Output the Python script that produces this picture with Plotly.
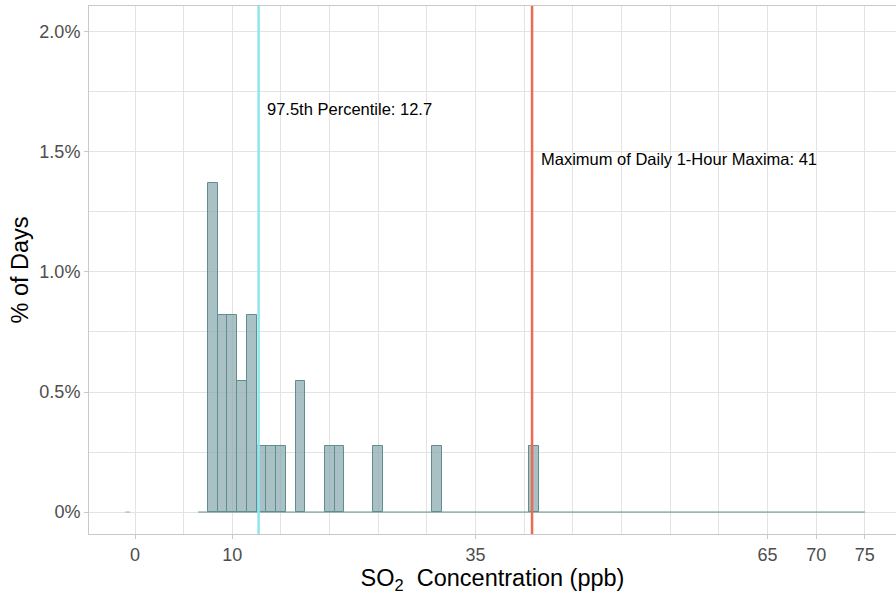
import plotly.graph_objects as go

# ---- data ----
bin_centers = [8, 9, 10, 11, 12, 13, 14, 15, 17, 20, 21, 25, 31, 41]
day_counts = [5, 3, 3, 2, 3, 1, 1, 1, 2, 1, 1, 1, 1, 1]
total_days = 365
pct_days = [c / total_days for c in day_counts]

baseline_x = [6.5, 75]          # zero-height bins drawn as a baseline
stray_x = [-1.0, -0.5]          # tiny zero-height bin left of 0

p975_value = 12.7
max_value = 40.8
max_label = 41

x_tickvals = [0, 10, 35, 65, 70, 75]
x_ticktext = ["0", "10", "35", "65", "70", "75"]
y_tickvals = [0, 0.005, 0.01, 0.015, 0.02]
y_ticktext = ["0%", "0.5%", "1.0%", "1.5%", "2.0%"]

FILL = "rgba(140,172,176,0.75)"
EDGE = "#5f8d90"
CYAN = "#8ee5ee"
RED = "#ee6a50"
GRID = "#e3e3e3"
AXIS = "#c9c9c9"
FONT = "Liberation Sans, Arial, sans-serif"

fig = go.Figure()
fig.add_trace(go.Scatter(x=baseline_x, y=[0, 0], mode="lines",
                         line=dict(color=EDGE, width=1), hoverinfo="skip",
                         showlegend=False))
fig.add_trace(go.Scatter(x=stray_x, y=[0, 0], mode="lines",
                         line=dict(color="#8fb0c4", width=1), hoverinfo="skip",
                         showlegend=False))
fig.add_trace(go.Bar(x=bin_centers, y=pct_days, width=1,
                     marker=dict(color=FILL, line=dict(color=EDGE, width=1)),
                     showlegend=False))

fig.add_shape(type="line", xref="x", yref="paper", x0=p975_value, x1=p975_value,
              y0=0, y1=1, line=dict(color=CYAN, width=2.5))
fig.add_shape(type="line", xref="x", yref="paper", x0=max_value, x1=max_value,
              y0=0, y1=1, line=dict(color=RED, width=2.5))

fig.add_annotation(x=p975_value + 0.7, y=0.0168, xref="x", yref="y",
                   text=f"97.5th Percentile: {p975_value}", showarrow=False,
                   xanchor="left", yanchor="middle",
                   font=dict(family=FONT, size=16.5, color="black"))
fig.add_annotation(x=max_value + 0.75, y=0.01472, xref="x", yref="y",
                   text=f"Maximum of Daily 1-Hour Maxima: {max_label}", showarrow=False,
                   xanchor="left", yanchor="middle",
                   font=dict(family=FONT, size=16.5, color="black"))

fig.update_layout(
    width=896, height=594,
    margin=dict(l=89, r=0, t=6, b=60),
    plot_bgcolor="white", paper_bgcolor="white",
    font=dict(family=FONT),
    bargap=0,
    xaxis=dict(
        range=[-4.73, 78.2],
        tickvals=x_tickvals, ticktext=x_ticktext,
        ticks="outside", ticklen=4, tickcolor=AXIS,
        tickfont=dict(size=18, color="#4d4d4d"),
        showgrid=True, gridcolor=GRID, gridwidth=1,
        minor=dict(dtick=5, tick0=0, showgrid=True, gridcolor=GRID, ticks=""),
        showline=True, linecolor=AXIS, linewidth=1, mirror=True,
        zeroline=False,
        title=dict(text="SO<sub>2</sub>&nbsp; Concentration (ppb)",
                   font=dict(size=23.5, color="black"), standoff=4),
    ),
    yaxis=dict(
        range=[-0.000915, 0.02108],
        tickvals=y_tickvals, ticktext=y_ticktext,
        ticks="outside", ticklen=4, tickcolor=AXIS,
        tickfont=dict(size=18, color="#4d4d4d"),
        showgrid=True, gridcolor=GRID, gridwidth=1,
        minor=dict(dtick=0.0025, tick0=0, showgrid=True, gridcolor=GRID, ticks=""),
        showline=True, linecolor=AXIS, linewidth=1,
        zeroline=False,
        title=dict(text="% of Days", font=dict(size=23.5, color="black"), standoff=4),
    ),
)

fig.write_html("out.html",
               config={"displayModeBar": False},
               post_script="document.body.style.margin='0';document.body.style.overflow='hidden';")
